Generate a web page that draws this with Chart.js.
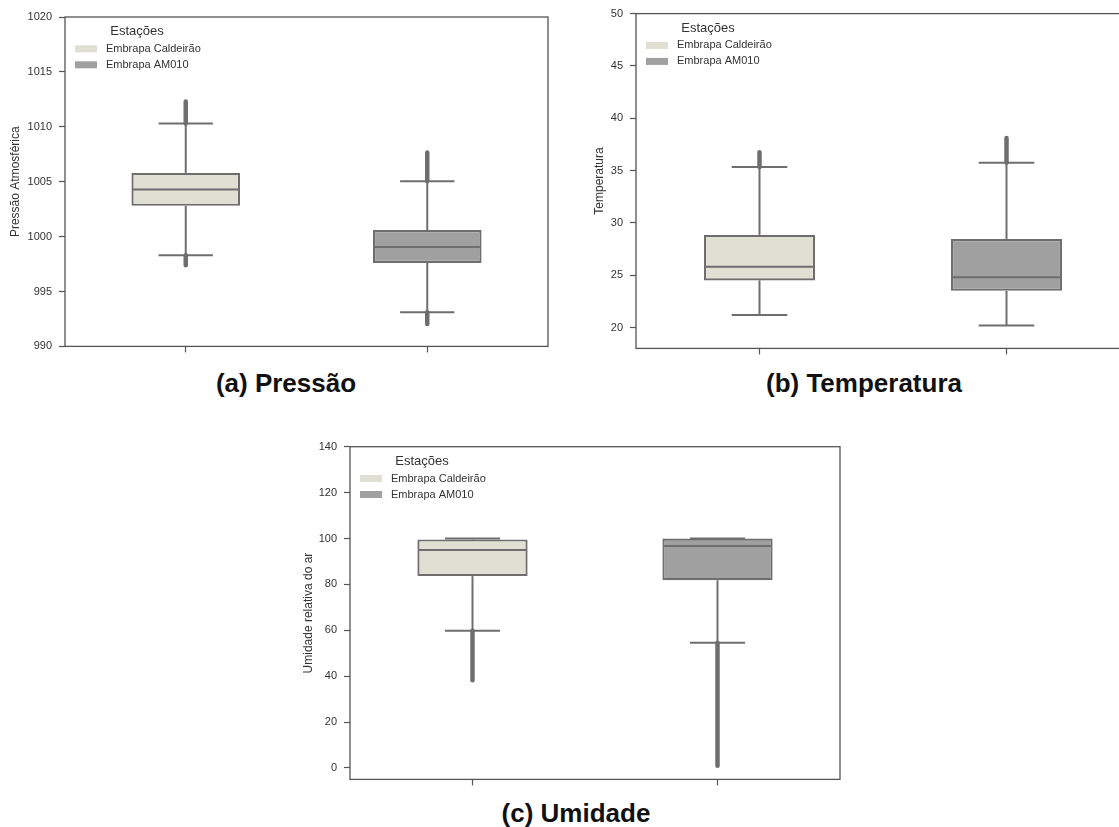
<!DOCTYPE html>
<html>
<head>
<meta charset="utf-8">
<script src="https://cdn.jsdelivr.net/npm/chart.js@4.4.1/dist/chart.umd.min.js"></script>
<style>
  body { margin: 0; width: 1119px; height: 827px; overflow: hidden; position: relative; background: #fff;
         font-family: 'Liberation Sans', Arial, sans-serif; }
  canvas { position: absolute; }
  .rotulo { position: absolute; width: 300px; text-align: center; font-weight: bold;
            font-size: 26px; line-height: 26px; color: #111; }
</style>
</head>
<body>
<canvas id="graficoPressao" width="560" height="360" style="left:0;top:0"></canvas>
<canvas id="graficoTemperatura" width="582" height="362" style="left:560px;top:0"></canvas>
<canvas id="graficoUmidade" width="562" height="363" style="left:290px;top:430px"></canvas>
<div class="rotulo" style="left:136px;top:370px">(a) Pressão</div>
<div class="rotulo" style="left:714px;top:370px">(b) Temperatura</div>
<div class="rotulo" style="left:426px;top:800px">(c) Umidade</div>

<script>
// ------------------------------------------------------------
// Dados
// ------------------------------------------------------------
const estacoes = ['Embrapa Caldeirão', 'Embrapa AM010']

// (a) Pressão
const pressaoBigodeMin = [998.3, 993.1]
const pressaoQ1 = [1002.8, 997.6]
const pressaoMediana = [1004.3, 999.05]
const pressaoQ3 = [1005.8, 1000.6]
const pressaoBigodeMax = [1010.3, 1005.05]
const pressaoOutlierMin = [997.4, 992.05]
const pressaoOutlierMax = [1012.3, 1007.65]
const pressaoTicks = [990, 995, 1000, 1005, 1010, 1015, 1020]

// (b) Temperatura
const tempBigodeMin = [21.2, 20.2]
const tempQ1 = [24.5, 23.5]
const tempMediana = [25.8, 24.8]
const tempQ3 = [28.85, 28.45]
const tempBigodeMax = [35.35, 35.75]
const tempOutlierMin = [null, null]
const tempOutlierMax = [36.75, 38.1]
const tempTicks = [20, 25, 30, 35, 40, 45, 50]

// (c) Umidade
const umidBigodeMin = [59.8, 54.6]
const umidQ1 = [83.6, 81.8]
const umidMediana = [95.0, 96.7]
const umidQ3 = [99.6, 100]
const umidBigodeMax = [100, 100]
const umidOutlierMin = [38.2, 1.0]
const umidOutlierMax = [null, null]
const umidTicks = [0, 20, 40, 60, 80, 100, 120, 140]

// ------------------------------------------------------------
// Estilo
// ------------------------------------------------------------
const corFundo = ['#dfdfd3', '#a0a0a0']
const corLinha = '#6e6e6e'
const corEixo = '#555'
const corTexto = '#333'
const fonte = "'Liberation Sans', Arial, sans-serif"

function linha(ctx, x1, y1, x2, y2) {
    ctx.beginPath()
    ctx.moveTo(x1, y1)
    ctx.lineTo(x2, y2)
    ctx.stroke()
}

// bigodes, medianas, outliers, moldura e legenda
function pluginCaixas(s) {
    return {
        id: 'caixas',
        beforeDatasetsDraw(chart) {
            const ctx = chart.ctx
            const y = chart.scales.y
            ctx.save()
            ctx.strokeStyle = corLinha
            chart.getDatasetMeta(0).data.forEach((bar, i) => {
                ctx.lineCap = 'round'
                ctx.lineWidth = 4.5
                if (s.outMax[i] != null) linha(ctx, bar.x, y.getPixelForValue(s.hi[i]), bar.x, y.getPixelForValue(s.outMax[i]))
                if (s.outMin[i] != null) linha(ctx, bar.x, y.getPixelForValue(s.lo[i]), bar.x, y.getPixelForValue(s.outMin[i]))
                ctx.lineCap = 'butt'
                ctx.lineWidth = 2
                linha(ctx, bar.x, y.getPixelForValue(s.q3[i]), bar.x, y.getPixelForValue(s.hi[i]))
                linha(ctx, bar.x, y.getPixelForValue(s.q1[i]), bar.x, y.getPixelForValue(s.lo[i]))
            })
            ctx.restore()
        },
        afterDatasetsDraw(chart) {
            const ctx = chart.ctx
            const y = chart.scales.y
            ctx.save()
            ctx.strokeStyle = corLinha
            ctx.lineWidth = 2
            chart.getDatasetMeta(0).data.forEach((bar, i) => {
                const w = bar.width
                const ym = y.getPixelForValue(s.med[i])
                linha(ctx, bar.x - w / 2 + 1, ym, bar.x + w / 2 - 1, ym)
                const yh = y.getPixelForValue(s.hi[i])
                const yl = y.getPixelForValue(s.lo[i])
                linha(ctx, bar.x - w / 4, yh, bar.x + w / 4, yh)
                linha(ctx, bar.x - w / 4, yl, bar.x + w / 4, yl)
            })
            ctx.restore()
        },
        afterDraw(chart) {
            const { ctx, chartArea: a } = chart
            ctx.save()
            ctx.strokeStyle = corEixo
            ctx.lineWidth = 1.3
            ctx.strokeRect(a.left, a.top, a.right - a.left, a.bottom - a.top)

            // legenda
            ctx.fillStyle = corTexto
            ctx.textBaseline = 'middle'
            ctx.textAlign = 'center'
            ctx.font = '13px ' + fonte
            ctx.fillText('Estações', a.left + 72, a.top + 14.5)
            ctx.font = '11px ' + fonte
            ctx.textAlign = 'left'
            estacoes.forEach((nome, i) => {
                const yy = a.top + 31.8 + i * 16
                ctx.fillStyle = corFundo[i]
                ctx.fillRect(a.left + 10, yy - 3.5, 22, 7)
                ctx.fillStyle = corTexto
                ctx.fillText(nome, a.left + 41, yy)
            })
            ctx.restore()
        }
    }
}

function criarGrafico(id, s) {
    return new Chart(document.getElementById(id), {
        type: 'bar',
        data: {
            labels: estacoes,
            datasets: [{
                data: estacoes.map((_, i) => [s.q1[i], s.q3[i]]),
                backgroundColor: corFundo,
                borderColor: corLinha,
                borderWidth: 2.2,
                borderSkipped: false,
                barPercentage: 0.45,
                categoryPercentage: 1
            }]
        },
        options: {
            responsive: false,
            animation: false,
            events: [],
            layout: { padding: s.padding },
            plugins: {
                legend: { display: false },
                tooltip: { enabled: false }
            },
            scales: {
                x: {
                    offset: true,
                    border: { display: false },
                    grid: { offset: false, drawOnChartArea: false, tickLength: 6, tickWidth: 1.2, tickColor: corEixo },
                    ticks: { display: false },
                    afterFit: (sc) => { sc.height = 10 }
                },
                y: {
                    min: s.min,
                    max: s.max,
                    border: { display: false },
                    grid: { drawOnChartArea: false, tickLength: 6, tickWidth: 1.2, tickColor: corEixo },
                    ticks: {
                        padding: 7,
                        color: corTexto,
                        font: { family: fonte, size: 11 },
                        callback: (v) => String(v)
                    },
                    title: {
                        display: true,
                        text: s.titulo,
                        color: corTexto,
                        font: { family: fonte, size: 12 },
                        padding: { top: 0, bottom: 0 }
                    },
                    afterBuildTicks: (sc) => { sc.ticks = s.ticks.map(v => ({ value: v })) },
                    afterFit: (sc) => { sc.width = s.larguraEixo }
                }
            }
        },
        plugins: [pluginCaixas(s)]
    })
}

criarGrafico('graficoPressao', {
    titulo: 'Pressão Atmosférica', min: 990, max: 1020, ticks: pressaoTicks,
    lo: pressaoBigodeMin, q1: pressaoQ1, med: pressaoMediana, q3: pressaoQ3, hi: pressaoBigodeMax,
    outMin: pressaoOutlierMin, outMax: pressaoOutlierMax,
    padding: { left: 8.5, top: 17, right: 12, bottom: 2 }, larguraEixo: 56.5
})

criarGrafico('graficoTemperatura', {
    titulo: 'Temperatura', min: 18, max: 50, ticks: tempTicks,
    lo: tempBigodeMin, q1: tempQ1, med: tempMediana, q3: tempQ3, hi: tempBigodeMax,
    outMin: tempOutlierMin, outMax: tempOutlierMax,
    padding: { left: 32.3, top: 12.3, right: 12, bottom: 2 }, larguraEixo: 43.7
})

criarGrafico('graficoUmidade', {
    titulo: 'Umidade relativa do ar', min: -5, max: 140, ticks: umidTicks,
    lo: umidBigodeMin, q1: umidQ1, med: umidMediana, q3: umidQ3, hi: umidBigodeMax,
    outMin: umidOutlierMin, outMax: umidOutlierMax,
    padding: { left: 11.3, top: 16.7, right: 12, bottom: 2 }, larguraEixo: 48.7
})
</script>
</body>
</html>
